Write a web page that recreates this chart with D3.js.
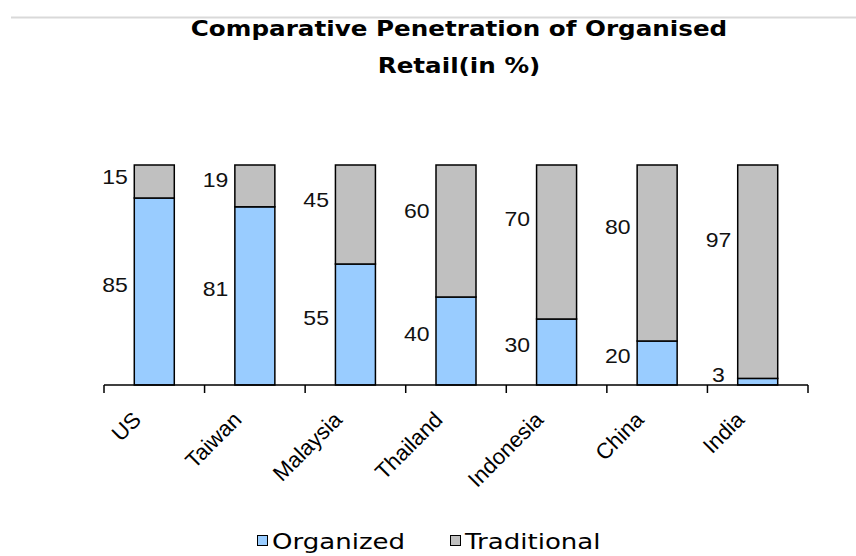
<!DOCTYPE html>
<html>
<head>
<meta charset="utf-8">
<script src="https://cdn.jsdelivr.net/npm/d3@7/dist/d3.min.js"></script>
<style>
  html, body { margin: 0; padding: 0; background: #fff; }
  svg { display: block; }
</style>
</head>
<body>
<svg id="chart" width="856" height="556"></svg>
<script>
const categories = ["US", "Taiwan", "Malaysia", "Thailand", "Indonesia", "China", "India"];
const organized = [85, 81, 55, 40, 30, 20, 3];
const traditional = [15, 19, 45, 60, 70, 80, 97];
const seriesNames = ["Organized", "Traditional"];
const titleLines = ["Comparative Penetration of Organised", "Retail(in %)"];

const colors = { Organized: "#99CCFF", Traditional: "#C0C0C0" };

const svg = d3.select("#chart");
const W = 856, H = 556;
const plot = { left: 104, right: 808, top: 165, bottom: 385 };

// top faint rule
svg.append("line").attr("x1", 11).attr("x2", W).attr("y1", 17.5).attr("y2", 17.5)
  .attr("stroke", "#d9d9d9").attr("stroke-width", 2);

// title
titleLines.forEach((t, i) => {
  svg.append("text").attr("transform", `translate(459,${36 + i * 37}) scale(1.12,1)`)
    .attr("text-anchor", "middle")
    .attr("font-family", "DejaVu Sans").attr("font-weight", "bold").attr("font-size", 22)
    .attr("fill", "#000").text(t);
});

const xOuter = d3.scaleBand().domain(categories).range([plot.left, plot.right]);
const y = d3.scaleLinear().domain([0, 100]).range([plot.bottom, plot.top]);

const rows = categories.map((c, i) => ({ cat: c, Organized: organized[i], Traditional: traditional[i] }));
const stacked = d3.stack().keys(seriesNames)(rows);

const bw = 40;
const g = svg.append("g");
stacked.forEach(layer => {
  g.selectAll(null).data(layer).enter().append("rect")
    .attr("x", d => xOuter(d.data.cat) + xOuter.bandwidth() / 2 - bw / 2)
    .attr("y", d => y(d[1]))
    .attr("width", bw)
    .attr("height", d => y(d[0]) - y(d[1]))
    .attr("fill", colors[layer.key])
    .attr("stroke", "#000").attr("stroke-width", 1.5);
});

// axis
const axisG = svg.append("g");
axisG.append("line").attr("x1", plot.left).attr("x2", plot.right)
  .attr("y1", plot.bottom).attr("y2", plot.bottom).attr("stroke", "#000").attr("stroke-width", 1.5);
const tickPos = categories.map(c => xOuter(c)).concat([plot.right]);
axisG.selectAll(null).data(tickPos).enter().append("line")
  .attr("x1", d => d).attr("x2", d => d)
  .attr("y1", plot.bottom).attr("y2", plot.bottom + 8)
  .attr("stroke", "#000").attr("stroke-width", 1.5);

// category labels
axisG.selectAll(null).data(categories).enter().append("text")
  .attr("transform", c => `translate(${xOuter(c) + xOuter.bandwidth() / 2 - 12},${plot.bottom + 36}) rotate(-45)`)
  .attr("text-anchor", "end")
  .attr("font-family", "Liberation Sans, Arial").attr("font-size", 22)
  .attr("fill", "#000").text(c => c);

// data labels
const labG = svg.append("g").attr("font-family", "Liberation Sans, Arial").attr("font-size", 20).attr("fill", "#111");
stacked.forEach(layer => {
  labG.selectAll(null).data(layer).enter().append("text")
    .attr("transform", d => {
      const top = y(d[1]), bot = y(d[0]);
      const h = bot - top;
      const cy = layer.key === "Organized" ? (top + bot) / 2 - 7 : top + 0.35 * h;
      return `translate(${xOuter(d.data.cat) + 11},${cy}) scale(1.15,1)`;
    })
    .attr("text-anchor", "middle").attr("dy", "0.35em")
    .text(d => d[1] - d[0]);
});

// legend
const leg = svg.append("g");
const legItems = [{ k: "Organized", x: 257 }, { k: "Traditional", x: 450 }];
legItems.forEach(it => {
  leg.append("rect").attr("x", it.x + 0.5).attr("y", 535.5).attr("width", 10).attr("height", 10)
    .attr("fill", colors[it.k]).attr("stroke", "#000").attr("stroke-width", 1);
  leg.append("text").attr("transform", `translate(${it.x + 15},549) scale(1.24,1)`)
    .attr("font-family", "DejaVu Sans").attr("font-size", 21).attr("fill", "#000").text(it.k);
});
</script>
</body>
</html>
